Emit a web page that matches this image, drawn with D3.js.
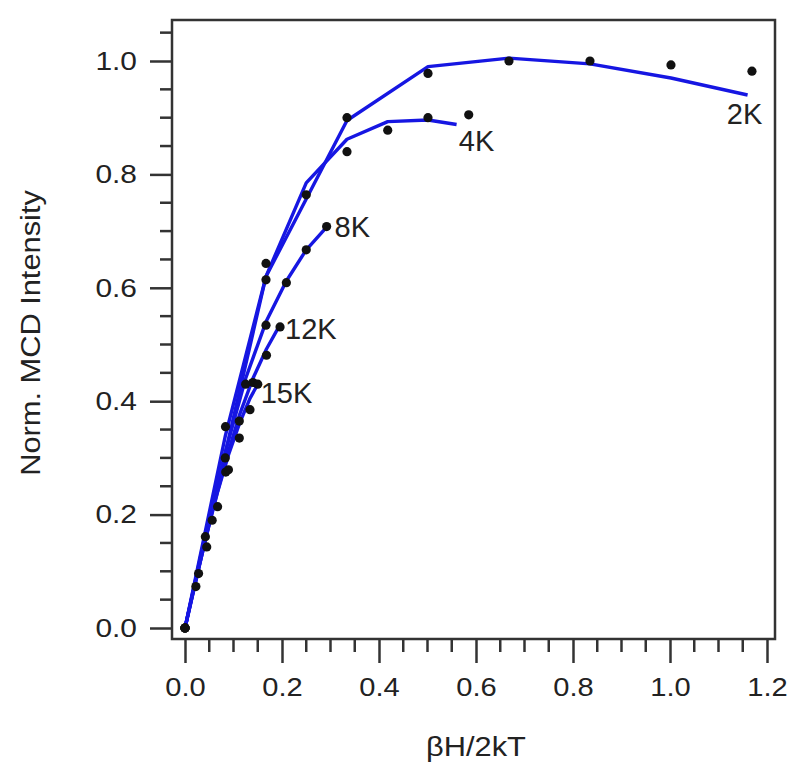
<!DOCTYPE html>
<html>
<head>
<meta charset="utf-8">
<script src="https://cdn.jsdelivr.net/npm/d3@7"></script>
<style>
  html, body { margin: 0; padding: 0; background: #fff; }
  svg { display: block; }
  text { font-family: "Liberation Sans", Arial, sans-serif; fill: #222; }
</style>
</head>
<body>
<svg id="chart" width="800" height="777"></svg>
<script>
// ---------------- data ----------------
const seriesNames = ["2K", "4K", "8K", "12K", "15K"];

// measured points (black dots)
const x2K = [0, 0.167, 0.334, 0.501, 0.668, 0.835, 1.002, 1.169];
const y2K = [0, 0.643, 0.900, 0.978, 1.000, 1.000, 0.993, 0.982];
const x4K = [0, 0.0835, 0.167, 0.250, 0.334, 0.418, 0.501, 0.585];
const y4K = [0, 0.355, 0.614, 0.764, 0.840, 0.878, 0.900, 0.905];
const x8K = [0, 0.042, 0.083, 0.125, 0.167, 0.209, 0.250, 0.292];
const y8K = [0, 0.161, 0.300, 0.430, 0.534, 0.609, 0.667, 0.708];
const x12K = [0, 0.028, 0.056, 0.084, 0.112, 0.140, 0.168, 0.196];
const y12K = [0, 0.096, 0.190, 0.275, 0.365, 0.433, 0.481, 0.531];
const x15K = [0, 0.0224, 0.0448, 0.0672, 0.0896, 0.112, 0.134, 0.150];
const y15K = [0, 0.073, 0.143, 0.214, 0.279, 0.335, 0.385, 0.430];

// fitted curves (blue lines)
const fx2K = [0, 0.167, 0.334, 0.501, 0.668, 0.835, 1.002, 1.160];
const fy2K = [0, 0.620, 0.895, 0.990, 1.005, 0.995, 0.970, 0.940];
const fx4K = [0, 0.0835, 0.167, 0.250, 0.334, 0.418, 0.501, 0.560];
const fy4K = [0, 0.340, 0.620, 0.785, 0.862, 0.893, 0.896, 0.888];
const fx8K = [0, 0.042, 0.083, 0.125, 0.167, 0.209, 0.250, 0.292];
const fy8K = [0, 0.165, 0.310, 0.440, 0.540, 0.612, 0.667, 0.707];
const fx12K = [0, 0.028, 0.056, 0.084, 0.112, 0.140, 0.168, 0.196];
const fy12K = [0, 0.105, 0.205, 0.295, 0.375, 0.440, 0.492, 0.535];
const fx15K = [0, 0.0224, 0.0448, 0.0672, 0.0896, 0.112, 0.134, 0.152];
const fy15K = [0, 0.085, 0.165, 0.240, 0.305, 0.360, 0.405, 0.433];

const xTickLabels = ["0.0", "0.2", "0.4", "0.6", "0.8", "1.0", "1.2"];
const yTickLabels = ["0.0", "0.2", "0.4", "0.6", "0.8", "1.0"];
const xTitle = "βH/2kT";
const yTitle = "Norm. MCD Intensity";

// ---------------- layout ----------------
const svg = d3.select("#chart");
const L = 172, R = 775, T = 20, B = 639;

const x = d3.scaleLinear().domain([-0.0268, 1.2165]).range([L, R]);
const y = d3.scaleLinear().domain([-0.0194, 1.0723]).range([B, T]);

const axisColor = "#333";
const textColor = "#262626";
const lineColor = "#1616e2";
const fontFam = "Liberation Sans, Arial, sans-serif";

// minor ticks
const xMinor = d3.range(0, 1.2001, 0.05).filter(v => Math.abs(v / 0.2 - Math.round(v / 0.2)) > 1e-6);
const yMinor = d3.range(0, 1.0501, 0.05).filter(v => Math.abs(v / 0.2 - Math.round(v / 0.2)) > 1e-6);
const xMajor = xTickLabels.map(Number);
const yMajor = yTickLabels.map(Number);

// x axis (bottom)
const xAxis = d3.axisBottom(x).tickValues(xMajor).tickFormat((d, i) => xTickLabels[i])
  .tickSizeInner(24).tickSizeOuter(0).tickPadding(15);
const gx = svg.append("g").attr("transform", `translate(0,${B})`).call(xAxis);
gx.select(".domain").remove();
gx.selectAll(".tick line").attr("stroke", axisColor).attr("stroke-width", 2.5);
gx.selectAll(".tick text").attr("font-size", 26).attr("fill", textColor)
  .attr("font-family", fontFam)
  .attr("transform", "scale(1.12,1)").attr("dy", "0.71em").attr("x", 0);
svg.append("g").selectAll("line").data(xMinor).join("line")
  .attr("x1", d => x(d)).attr("x2", d => x(d)).attr("y1", B).attr("y2", B + 13)
  .attr("stroke", axisColor).attr("stroke-width", 2.5);

// y axis (left)
const yAxis = d3.axisLeft(y).tickValues(yMajor).tickFormat((d, i) => yTickLabels[i])
  .tickSizeInner(22).tickSizeOuter(0).tickPadding(0);
const gy = svg.append("g").attr("transform", `translate(${L},0)`).call(yAxis);
gy.select(".domain").remove();
gy.selectAll(".tick line").attr("stroke", axisColor).attr("stroke-width", 2.5);
gy.selectAll(".tick text").attr("font-size", 26).attr("fill", textColor)
  .attr("font-family", fontFam)
  .attr("x", 0).attr("transform", "translate(-35,0) scale(1.15,1)");
svg.append("g").selectAll("line").data(yMinor).join("line")
  .attr("x1", L - 12).attr("x2", L).attr("y1", d => y(d)).attr("y2", d => y(d))
  .attr("stroke", axisColor).attr("stroke-width", 2.5);

// frame
svg.append("rect").attr("x", L).attr("y", T).attr("width", R - L).attr("height", B - T)
  .attr("fill", "none").attr("stroke", axisColor).attr("stroke-width", 2.5);

// titles
svg.append("text").attr("transform", `translate(476,756) scale(1.1,1)`).attr("text-anchor", "middle")
  .attr("font-size", 28).attr("fill", textColor).text(xTitle);
svg.append("text").attr("transform", `translate(40,333) rotate(-90) scale(1.1,1)`)
  .attr("text-anchor", "middle").attr("font-size", 28).attr("fill", textColor).text(yTitle);

// series
const series = [
  { name: "2K", px: x2K, py: y2K, fx: fx2K, fy: fy2K, anchor: "middle", dx: -3, dy: 29 },
  { name: "4K", px: x4K, py: y4K, fx: fx4K, fy: fy4K, anchor: "middle", dx: 20, dy: 27 },
  { name: "8K", px: x8K, py: y8K, fx: fx8K, fy: fy8K, anchor: "start", dx: 8, dy: 10 },
  { name: "12K", px: x12K, py: y12K, fx: fx12K, fy: fy12K, anchor: "start", dx: 5, dy: 14 },
  { name: "15K", px: x15K, py: y15K, fx: fx15K, fy: fy15K, anchor: "start", dx: 2, dy: 21 }
];

const line = d3.line().x(d => x(d[0])).y(d => y(d[1]));
const gLines = svg.append("g");
series.forEach(s => {
  const pts = s.fx.map((v, i) => [v, s.fy[i]]);
  gLines.append("path").attr("d", line(pts)).attr("fill", "none")
    .attr("stroke", lineColor).attr("stroke-width", 3.4).attr("stroke-linejoin", "round");
});
const gDots = svg.append("g");
series.forEach(s => {
  gDots.selectAll(null).data(s.px.map((v, i) => [v, s.py[i]])).join("circle")
    .attr("cx", d => x(d[0])).attr("cy", d => y(d[1])).attr("r", 4.6).attr("fill", "#111");
});
const gLab = svg.append("g");
series.forEach(s => {
  const n = s.fx.length - 1;
  gLab.append("text").attr("x", x(s.fx[n]) + s.dx).attr("y", y(s.fy[n]) + s.dy)
    .attr("text-anchor", s.anchor).attr("font-size", 29).attr("fill", textColor).text(s.name);
});
</script>
</body>
</html>
